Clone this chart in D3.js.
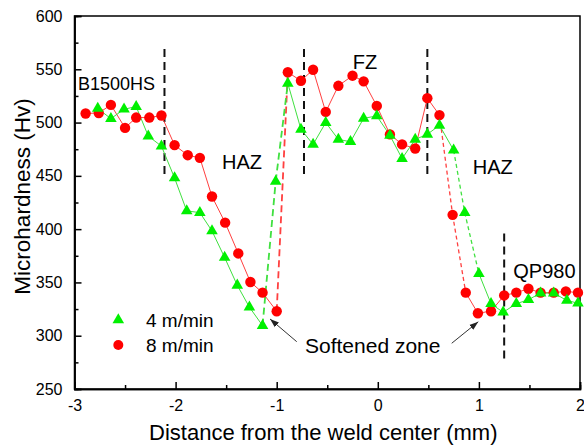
<!DOCTYPE html>
<html><head><meta charset="utf-8">
<script src="https://cdn.jsdelivr.net/npm/d3@7/dist/d3.min.js"></script>
<style>body{margin:0;background:#fff}svg{display:block}text{font-family:"Liberation Sans",Arial,sans-serif;fill:#000}</style>
</head><body><svg id="c" width="584" height="445"></svg>
<script>
// ---- data ----
const seriesNames = ["4 m/min", "8 m/min"];
const x4 = [-2.77,-2.64,-2.51,-2.39,-2.27,-2.14,-2.01,-1.89,-1.76,-1.64,-1.515,-1.39,-1.27,-1.14,-1.01,-0.89,-0.76,-0.64,-0.515,-0.39,-0.27,-0.14,-0.01,0.12,0.24,0.37,0.49,0.61,0.75,0.86,1.00,1.12,1.24,1.37,1.49,1.61,1.74,1.87,1.98];
const v4 = [513.2,503.7,512.5,515,487.3,477.9,448,417.1,415.5,398.3,373.4,347.3,326.8,309.5,444.8,536.8,493.6,479.5,500,484.2,482,504,506.2,488,466.2,484.2,489,497.4,474.1,415.5,358.3,330,322,330,333.8,340,340,333.1,330.5];
const x8 = [-2.89,-2.76,-2.64,-2.50,-2.39,-2.26,-2.14,-2.01,-1.88,-1.76,-1.64,-1.51,-1.38,-1.26,-1.14,-1.00,-0.89,-0.76,-0.64,-0.515,-0.39,-0.25,-0.14,-0.01,0.12,0.24,0.37,0.49,0.61,0.74,0.87,0.99,1.12,1.25,1.37,1.49,1.61,1.74,1.86,1.98];
const v8 = [508.5,509,516.6,495,504.7,504.7,506.6,478.8,469.4,466.9,430.6,406.1,377.2,350.4,340.4,323,547.2,539.2,549.6,510,534.5,544,538.7,515.6,488.9,479.5,475.7,522.9,507,413.4,340.4,321.1,323,337.8,340.4,344.1,340.4,340.4,341.6,340.4];
const xTickValues = [-3,-2,-1,0,1,2];
const xMinorValues = [-2.5,-1.5,-0.5,0.5,1.5];
const yTickValues = [250,300,350,400,450,500,550,600];
const yMinorValues = [275,325,375,425,475,525,575];
const boundaryX = [-2.11,-0.73,0.49,1.25];
const boundaryTop = [569,569,569,396];
const boundaryBottom = [448,448,448,276];
const zoneText = ["B1500HS","HAZ","FZ","HAZ","QP980","Softened zone"];
const zoneTextX = [-2.965,-1.541,-0.248,0.939,1.34,-0.72];
const zoneTextY = [530.6,456.4,550.3,451.7,354.2,284];
const arrowFromX = [-0.802,0.731], arrowFromY = [294.4,292.9];
const arrowToX = [-1.066,0.994], arrowToY = [315.7,313.1];
const xTitle = "Distance from the weld center (mm)";
const yTitle = "Microhardness (Hv)";

// ---- layout ----
const L = 74.5, R = 580, T = 16, B = 389;
const svg = d3.select("#c");
const x = d3.scaleLinear().domain([-3,2]).range([L,R]);
const y = d3.scaleLinear().domain([250,600]).range([B,T]);

const defs = svg.append("defs");
defs.append("marker").attr("id","ah").attr("viewBox","0 0 10 10").attr("refX",10).attr("refY",5)
  .attr("markerWidth",9).attr("markerHeight",9).attr("markerUnits","userSpaceOnUse").attr("orient","auto")
  .append("path").attr("d","M0,1.5 L10,5 L0,8.5 Z").attr("fill","#222");

// frame
svg.append("rect").attr("x",L).attr("y",T).attr("width",R-L).attr("height",B-T)
  .attr("fill","none").attr("stroke","#000").attr("stroke-width",1.5);

// axes
const gx = svg.append("g").attr("transform",`translate(0,${B})`)
  .call(d3.axisBottom(x).tickValues(xTickValues).tickSize(-7).tickPadding(11).tickFormat(d3.format("d")));
svg.append("g").attr("transform",`translate(0,${B})`)
  .call(d3.axisBottom(x).tickValues(xMinorValues).tickSize(-4).tickFormat(""));
const gy = svg.append("g").attr("transform",`translate(${L},0)`)
  .call(d3.axisLeft(y).tickValues(yTickValues).tickSize(-7).tickPadding(12));
svg.append("g").attr("transform",`translate(${L},0)`)
  .call(d3.axisLeft(y).tickValues(yMinorValues).tickSize(-4).tickFormat(""));
svg.selectAll(".domain").attr("stroke","#000").attr("stroke-width",1.5);
svg.selectAll(".tick line").attr("stroke","#000").attr("stroke-width",1.5);
svg.selectAll(".tick text").attr("font-size",16).attr("font-family","Liberation Sans, Arial, sans-serif").attr("fill","#000");
gx.selectAll(".tick text").text(d => d < 0 ? "-" + Math.abs(d) : d);

svg.append("text").attr("x",(L+R)/2 - 4).attr("y",440).attr("text-anchor","middle")
  .attr("font-size",22).text(xTitle);
svg.append("text").attr("transform",`translate(30,${(T+B)/2 - 6}) rotate(-90)`).attr("text-anchor","middle")
  .attr("font-size",22.5).text(yTitle);

// boundary dashed lines
boundaryX.forEach((bx,i) => {
  svg.append("line").attr("x1",x(bx)).attr("x2",x(bx)).attr("y1",y(boundaryTop[i])).attr("y2",y(boundaryBottom[i]))
    .attr("stroke","#111").attr("stroke-width",2).attr("stroke-dasharray","8,5");
});

// series
function drawLines(xs, vs, color) {
  for (let i = 0; i < xs.length - 1; i++) {
    const steep = Math.abs(vs[i+1]-vs[i]) > 50;
    const left = xs[i] < 0;
    svg.append("line").attr("x1",x(xs[i])).attr("y1",y(vs[i])).attr("x2",x(xs[i+1])).attr("y2",y(vs[i+1]))
      .attr("stroke",color)
      .attr("stroke-width", steep ? (left ? 1.8 : 1.3) : 1)
      .attr("stroke-dasharray", steep ? (left ? "7,4" : "4,3") : null);
  }
}
const red = "#ff0000", green = "#00f000";
drawLines(x8, v8, "#ff4040");
drawLines(x4, v4, "#40e040");
svg.append("g").selectAll("circle").data(x8.map((d,i)=>[d,v8[i]])).join("circle")
  .attr("cx",d=>x(d[0])).attr("cy",d=>y(d[1])).attr("r",5.2).attr("fill",red);
const tri = d3.symbol().type(d3.symbolTriangle).size(58);
svg.append("g").selectAll("path").data(x4.map((d,i)=>[d,v4[i]])).join("path")
  .attr("d",tri).attr("transform",d=>`translate(${x(d[0])},${y(d[1])})`).attr("fill",green);

// annotations
zoneText.forEach((t,i) => {
  svg.append("text").attr("x",x(zoneTextX[i])).attr("y",y(zoneTextY[i]))
    .attr("font-size", i === 0 ? 18 : (i === 5 ? 21 : 20)).text(t);
});
arrowFromX.forEach((ax,i) => {
  svg.append("line").attr("x1",x(ax)).attr("y1",y(arrowFromY[i])).attr("x2",x(arrowToX[i])).attr("y2",y(arrowToY[i]))
    .attr("stroke","#333").attr("stroke-width",1).attr("marker-end","url(#ah)");
});

// legend
const lg = svg.append("g");
lg.append("path").attr("d",tri).attr("transform","translate(118.3,320)").attr("fill",green);
lg.append("circle").attr("cx",118.3).attr("cy",345).attr("r",5).attr("fill",red);
lg.append("text").attr("x",146).attr("y",327).attr("font-size",19).text(seriesNames[0]);
lg.append("text").attr("x",146).attr("y",352).attr("font-size",19).text(seriesNames[1]);
</script></body></html>
